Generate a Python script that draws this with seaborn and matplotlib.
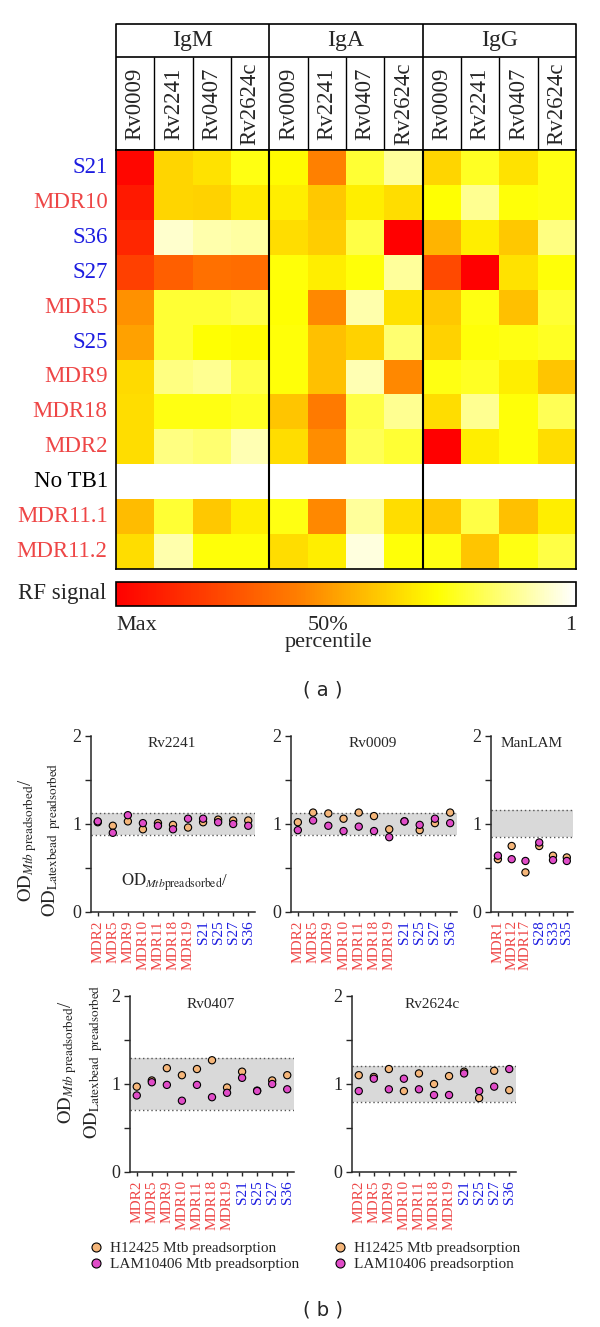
import numpy as np
import pandas as pd
import seaborn as sns
import matplotlib.pyplot as plt
from matplotlib.colors import LinearSegmentedColormap
from matplotlib.lines import Line2D
from matplotlib.ticker import MultipleLocator

# --- Panel (a): RF signal heatmap (0 = max signal / red, 1 = lowest / white) ---
ISOTYPES = ["IgM", "IgA", "IgG"]
ANTIGENS = ["Rv0009", "Rv2241", "Rv0407", "Rv2624c"]
PATIENTS = ["S21", "MDR10", "S36", "S27", "MDR5", "S25", "MDR9", "MDR18",
            "MDR2", "No TB1", "MDR11.1", "MDR11.2"]

RF_IGM = [
    [0.02, 0.60, 0.63, 0.72],
    [0.08, 0.60, 0.59, 0.65],
    [0.12, 0.94, 0.90, 0.89],
    [0.20, 0.30, 0.35, 0.34],
    [0.44, 0.76, 0.76, 0.78],
    [0.48, 0.76, 0.70, 0.69],
    [0.61, 0.85, 0.87, 0.78],
    [0.62, 0.72, 0.72, 0.74],
    [0.62, 0.85, 0.83, 0.91],
    [1.00, 1.00, 1.00, 1.00],
    [0.54, 0.76, 0.57, 0.66],
    [0.62, 0.90, 0.71, 0.71],
]
RF_IGA = [
    [0.69, 0.40, 0.76, 0.88],
    [0.66, 0.57, 0.66, 0.62],
    [0.62, 0.58, 0.78, 0.00],
    [0.71, 0.66, 0.71, 0.88],
    [0.70, 0.42, 0.90, 0.63],
    [0.71, 0.55, 0.59, 0.83],
    [0.71, 0.55, 0.91, 0.42],
    [0.56, 0.38, 0.78, 0.87],
    [0.62, 0.43, 0.80, 0.76],
    [1.00, 1.00, 1.00, 1.00],
    [0.72, 0.42, 0.88, 0.62],
    [0.62, 0.66, 0.96, 0.71],
]
RF_IGG = [
    [0.60, 0.74, 0.63, 0.72],
    [0.70, 0.87, 0.71, 0.72],
    [0.52, 0.66, 0.57, 0.85],
    [0.23, 0.00, 0.63, 0.71],
    [0.57, 0.72, 0.55, 0.76],
    [0.59, 0.71, 0.72, 0.74],
    [0.72, 0.74, 0.66, 0.56],
    [0.62, 0.87, 0.71, 0.80],
    [0.00, 0.66, 0.71, 0.62],
    [1.00, 1.00, 1.00, 1.00],
    [0.57, 0.78, 0.55, 0.66],
    [0.72, 0.56, 0.72, 0.78],
]

# --- Panel (b): OD ratio after preadsorption ---
AG_PATIENTS = ["MDR2", "MDR5", "MDR9", "MDR10", "MDR11", "MDR18", "MDR19",
               "S21", "S25", "S27", "S36"]
LAM_PATIENTS = ["MDR1", "MDR12", "MDR17", "S28", "S33", "S35"]

RV2241_H = [1.02, 0.98, 1.03, 0.94, 1.01, 0.99, 0.96, 1.02, 1.05, 1.04, 1.04]
RV2241_L = [1.03, 0.90, 1.10, 1.01, 0.98, 0.94, 1.06, 1.06, 1.02, 1.00, 0.98]
RV0009_H = [1.02, 1.13, 1.12, 1.06, 1.13, 1.09, 0.94, 1.03, 0.93, 1.01, 1.13]
RV0009_L = [0.93, 1.04, 0.98, 0.92, 0.97, 0.92, 0.85, 1.03, 0.99, 1.06, 1.01]
MANLAM_H = [0.60, 0.75, 0.45, 0.75, 0.64, 0.62]
MANLAM_L = [0.64, 0.60, 0.58, 0.79, 0.59, 0.58]
RV0407_H = [0.97, 1.04, 1.18, 1.10, 1.17, 1.27, 0.96, 1.14, 0.925, 1.04, 1.10]
RV0407_L = [0.87, 1.02, 0.99, 0.81, 0.99, 0.85, 0.90, 1.07, 0.92, 1.00, 0.94]
RV2624C_H = [1.10, 1.08, 1.17, 0.92, 1.12, 1.00, 1.09, 1.14, 0.84, 1.15, 0.93]
RV2624C_L = [0.92, 1.06, 0.94, 1.06, 0.94, 0.875, 0.875, 1.12, 0.92, 0.97, 1.17]

# grey "no change" band per antigen (low, high)
BAND_RV2241 = (0.87, 1.13)
BAND_RV0009 = (0.87, 1.13)
BAND_MANLAM = (0.85, 1.16)
BAND_RV0407 = (0.70, 1.30)
BAND_RV2624C = (0.80, 1.21)

STRAINS = ["H12425", "LAM10406"]
LEGEND_LEFT = ["H12425 Mtb preadsorption", "LAM10406 Mtb preadsorption"]
LEGEND_RIGHT = ["H12425 Mtb preadsorption", "LAM10406 preadsorption"]

# --- Style ---
RED = "#ee4646"
BLUE = "#1c1ce0"
PALETTE = {"H12425": "#f5b67a", "LAM10406": "#e04cc8"}
BAND_GREY = "#d9d9d9"

sns.set_style("ticks")
plt.rcParams["font.family"] = ["Liberation Serif", "DejaVu Serif"]
plt.rcParams["mathtext.fontset"] = "stix"

W, H = 600, 1327
fig = plt.figure(figsize=(W / 100, H / 100), dpi=100)


def px_axes(x0, y0, x1, y1):
    """Axes from pixel box (top-left origin)."""
    return fig.add_axes([x0 / W, 1 - y1 / H, (x1 - x0) / W, (y1 - y0) / H])


def label_color(name):
    if name.startswith("MDR"):
        return RED
    if name.startswith("S"):
        return BLUE
    return "black"


# ---------------- Panel (a) ----------------
cmap = LinearSegmentedColormap.from_list(
    "rf",
    [(0.0, "#ff0000"), (0.25, "#ff5000"), (0.4, "#ff8000"), (0.55, "#ffc000"),
     (0.7, "#ffff00"), (0.85, "#ffff80"), (1.0, "#ffffff")],
)

cols = [f"{iso} {ag}" for iso in ISOTYPES for ag in ANTIGENS]
rf = pd.DataFrame(np.hstack([RF_IGM, RF_IGA, RF_IGG]), index=PATIENTS, columns=cols)

ax_head = px_axes(116, 24, 576, 150)
ax_hm = px_axes(116, 150, 576, 569)
ax_cb = px_axes(116, 582, 576, 606)

sns.heatmap(rf, cmap=cmap, vmin=0, vmax=1, linewidths=0, ax=ax_hm,
            cbar=True, cbar_ax=ax_cb, cbar_kws={"orientation": "horizontal"},
            xticklabels=False, yticklabels=PATIENTS)
ax_hm.tick_params(axis="y", length=0, pad=6, labelsize=16.5, rotation=0)
ax_hm.set_ylabel("")
for lbl in ax_hm.get_yticklabels():
    lbl.set_color(label_color(lbl.get_text()))
for s in ax_hm.spines.values():
    s.set_visible(True)
    s.set_color("black")
    s.set_linewidth(1.2)
for x in (4, 8):
    ax_hm.axvline(x, color="black", lw=1.5)

cb = ax_hm.collections[0].colorbar
cb.outline.set_edgecolor("black")
cb.outline.set_linewidth(1.2)
ax_cb.set_xticks([])
ax_cb.tick_params(length=0)

# table header
y_mid = (150 - 57) / 126
ax_head.set_xlim(0, 12)
ax_head.set_ylim(0, 1)
ax_head.axis("off")
ax_head.plot([0, 12, 12, 0, 0], [0, 0, 1, 1, 0], color="black", lw=1.2, clip_on=False)
ax_head.plot([0, 12], [y_mid, y_mid], color="black", lw=1.2)
ax_head.vlines([4, 8], 0, 1, color="black", lw=1.2)
ax_head.vlines([1, 2, 3, 5, 6, 7, 9, 10, 11], 0, y_mid, color="black", lw=1.0)
for i, iso in enumerate(ISOTYPES):
    ax_head.text(4 * i + 2, (1 + y_mid) / 2, iso, ha="center", va="center", fontsize=17)
for j, ag in enumerate(ANTIGENS * 3):
    ax_head.text(j + 0.5, y_mid / 2, ag, rotation=90, ha="center", va="center",
                 fontsize=16.5)

fig.text(106 / W, 1 - 594 / H, "RF signal", ha="right", va="center", fontsize=16.5)
fig.text(116 / W, 1 - 626 / H, "Max", ha="left", va="center", fontsize=16)
fig.text(328 / W, 1 - 626 / H, "50%", ha="center", va="center", fontsize=16)
fig.text(328 / W, 1 - 643 / H, "percentile", ha="center", va="center", fontsize=16)
fig.text(576 / W, 1 - 626 / H, "1", ha="right", va="center", fontsize=16)
fig.text(323 / W, 1 - 690 / H, "( a )", ha="center", va="center", fontsize=14,
         family="DejaVu Sans")


# ---------------- Panel (b) ----------------
def strip_panel(ax, title, patients, h_vals, l_vals, band, title_y):
    n = len(patients)
    df = pd.DataFrame({
        "patient": patients * 2,
        "ratio": h_vals + l_vals,
        "strain": [STRAINS[0]] * n + [STRAINS[1]] * n,
    })
    ax.axhspan(band[0], band[1], color=BAND_GREY, lw=0, zorder=0)
    for b in band:
        ax.axhline(b, ls=(0, (1, 2)), color="#555555", lw=1, zorder=1)
    sns.stripplot(data=df, x="patient", y="ratio", hue="strain", order=patients,
                  hue_order=STRAINS, palette=PALETTE, jitter=False, size=5.2,
                  linewidth=0.8, edgecolor="black", legend=False, ax=ax, zorder=3)
    ax.set_xlim(-0.45, n - 0.55)
    ax.set_ylim(0, 2)
    ax.set_xlabel("")
    ax.set_ylabel("")
    ax.set_yticks([0, 1, 2])
    ax.yaxis.set_minor_locator(MultipleLocator(0.5))
    ax.tick_params(axis="y", which="both", length=4, width=1, labelsize=13, pad=3)
    ax.tick_params(axis="x", length=3, width=1, labelsize=11, rotation=90, pad=3)
    for lbl in ax.get_xticklabels():
        lbl.set_color(label_color(lbl.get_text()))
    sns.despine(ax=ax)
    for s in ("left", "bottom"):
        ax.spines[s].set_linewidth(1.1)
    ax.text(0.49, title_y, title, transform=ax.transAxes, ha="center", va="center",
            fontsize=11)


ax1 = px_axes(91, 736, 255, 912)
ax2 = px_axes(291, 736, 457, 912)
ax3 = px_axes(491, 736, 573, 912)
ax4 = px_axes(130, 996, 294, 1172)
ax5 = px_axes(352, 996, 516, 1172)

strip_panel(ax1, "Rv2241", AG_PATIENTS, RV2241_H, RV2241_L, BAND_RV2241, 0.96)
strip_panel(ax2, "Rv0009", AG_PATIENTS, RV0009_H, RV0009_L, BAND_RV0009, 0.96)
strip_panel(ax3, "ManLAM", LAM_PATIENTS, MANLAM_H, MANLAM_L, BAND_MANLAM, 0.955)
ax3.set_xlim(-0.5, len(LAM_PATIENTS) - 0.55)
strip_panel(ax4, "Rv0407", AG_PATIENTS, RV0407_H, RV0407_L, BAND_RV0407, 0.95)
strip_panel(ax5, "Rv2624c", AG_PATIENTS, RV2624C_H, RV2624C_L, BAND_RV2624C, 0.95)

# stray label inside the Rv2241 panel
ax1.text(0.18, 0.17, r"$\mathrm{OD}_{\mathit{Mtb}\mathrm{preadsorbed}}$/",
         transform=ax1.transAxes, ha="left", va="center", fontsize=12)

YL1 = r"$\mathrm{OD}_{\mathit{Mtb}\ \mathrm{preadsorbed}}$/"
YL2 = r"$\mathrm{OD}_{\mathrm{Latexbead\ \ preadsorbed}}$"
for x1, x2, yc in ((28, 52, 840), (68, 94, 1062)):
    fig.text(x1 / W, 1 - yc / H, YL1, rotation=90, ha="center", va="center", fontsize=13.5)
    fig.text(x2 / W, 1 - yc / H, YL2, rotation=90, ha="center", va="center", fontsize=13.5)

handles = [Line2D([], [], ls="none", marker="o", markersize=6.5,
                  markerfacecolor=PALETTE[s], markeredgecolor="black",
                  markeredgewidth=0.8) for s in STRAINS]
for x_left, labels in ((88, LEGEND_LEFT), (332, LEGEND_RIGHT)):
    fig.legend(handles, labels, loc="center left",
               bbox_to_anchor=(x_left / W, 1 - 1256.5 / H), frameon=False,
               fontsize=11, handlelength=1.0, handletextpad=0.45,
               labelspacing=0.15, borderpad=0, borderaxespad=0)

fig.text(323 / W, 1 - 1310 / H, "( b )", ha="center", va="center", fontsize=14,
         family="DejaVu Sans")

fig.savefig("out.png", dpi=100)
